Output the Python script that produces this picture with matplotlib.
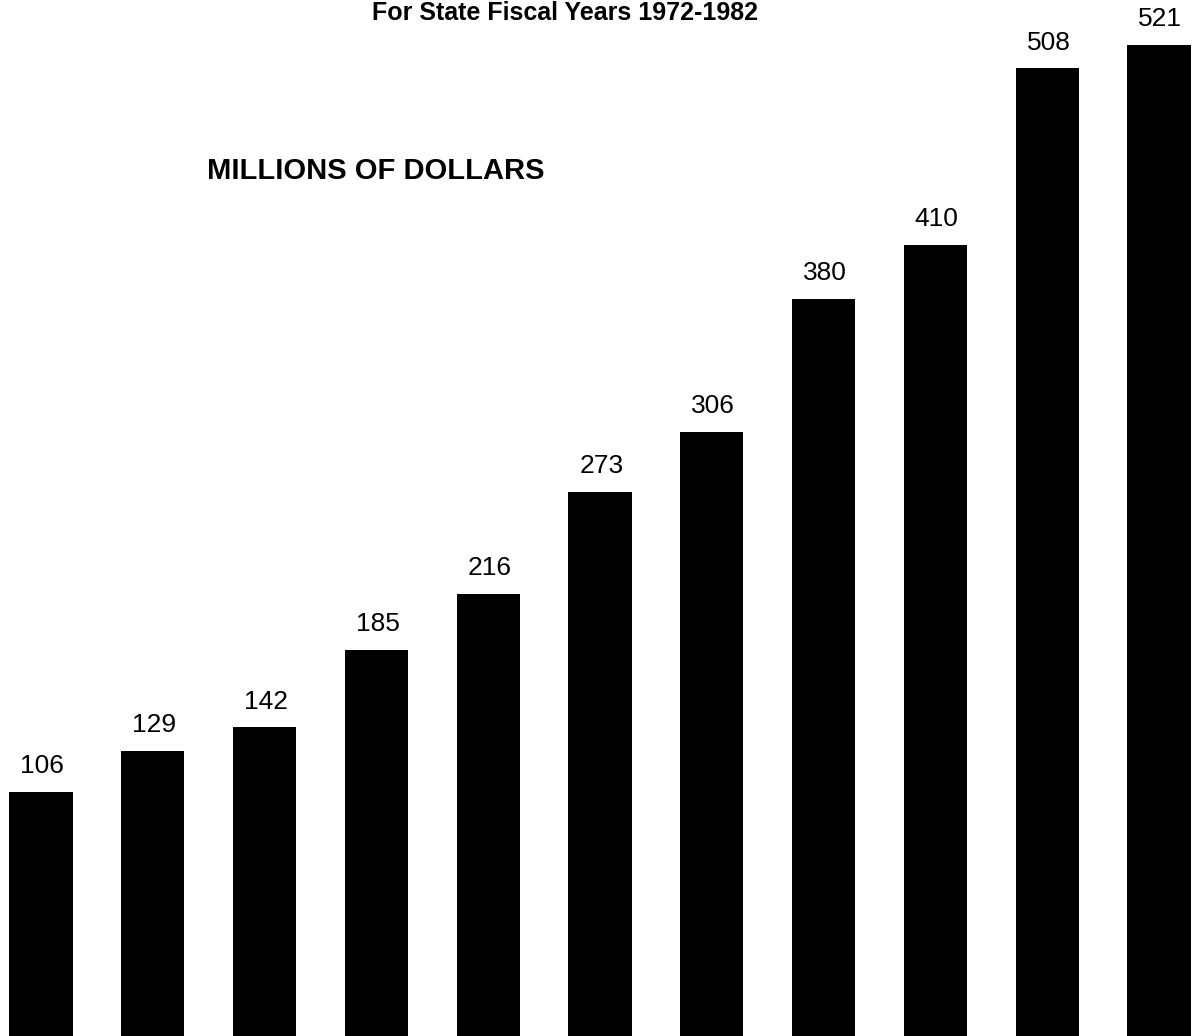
import numpy as np
import matplotlib
matplotlib.use("Agg")
import matplotlib.pyplot as plt

# Fiscal years 1972-1982, values in millions of dollars
years = ["1972", "1973", "1974", "1975", "1976", "1977",
         "1978", "1979", "1980", "1981", "1982"]
values = [106, 129, 142, 185, 216, 273, 306, 380, 410, 508, 521]

plt.rcParams['font.family'] = ['Liberation Sans', 'DejaVu Sans']

fig = plt.figure(figsize=(11.94, 10.36), dpi=100)
ax = fig.add_axes([0, 0, 1, 1])

# scanned chart: baseline sits below the visible crop
ymin, ymax = -29.4, 546
x = np.arange(len(values))
vals = np.array(values)
bars = ax.bar(x, vals - ymin, bottom=ymin, width=0.565, color='black')

for xi, v in zip(x, values):
    ax.annotate(str(v), (xi, v), xytext=(1, 10), textcoords='offset points',
                ha='center', va='bottom', fontsize=19, color='black')

ax.set_xlim(-0.367, 10.313)
ax.set_ylim(ymin, ymax)
ax.axis('off')

fig.text(565 / 1194, 1 - 20 / 1036, "For State Fiscal Years 1972-1982",
         ha='center', va='baseline', fontsize=18, fontweight='bold')
fig.text(207 / 1194, 1 - 179 / 1036, "MILLIONS OF DOLLARS",
         ha='left', va='baseline', fontsize=21, fontweight='bold')

fig.savefig("out.png", dpi=100, facecolor='white')
